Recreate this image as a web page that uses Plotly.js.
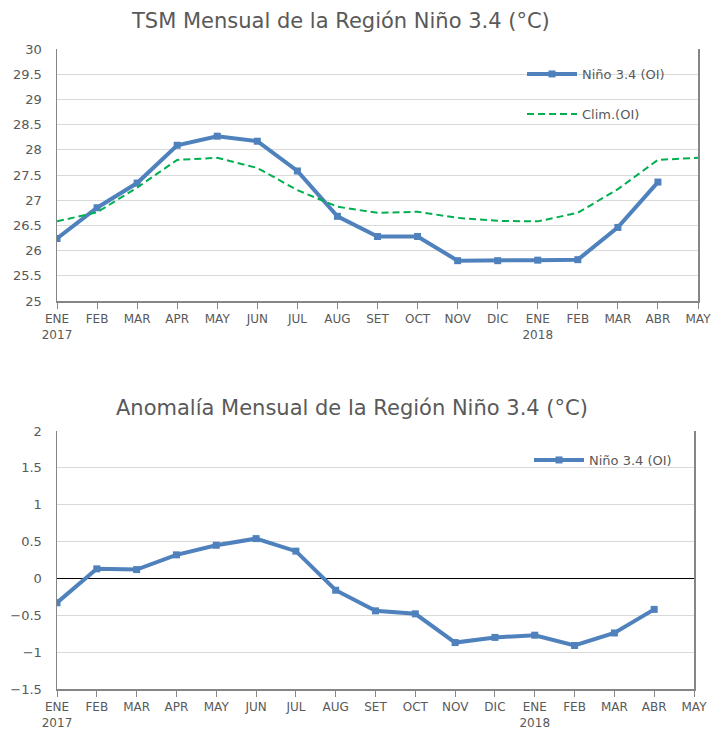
<!DOCTYPE html>
<html><head><meta charset="utf-8">
<script src="https://cdn.plot.ly/plotly-3.0.1.min.js"></script>
<style>html,body{margin:0;padding:0;background:#fff}#chart{width:713px;height:731px}</style>
</head><body><div id="chart"></div>
<script>
const months = ["ENE","FEB","MAR","APR","MAY","JUN","JUL","AUG","SET","OCT","NOV","DIC","ENE","FEB","MAR","ABR","MAY"];
const yearLabels = {0:"2017", 12:"2018"};
const nino34 = [26.24,26.85,27.34,28.09,28.27,28.17,27.58,26.68,26.28,26.28,25.80,25.80,25.81,25.82,26.46,27.36];
const clim = [26.58,26.76,27.25,27.80,27.84,27.64,27.20,26.87,26.75,26.77,26.65,26.59,26.58,26.75,27.22,27.80,27.84];
const anomaly = [-0.33,0.13,0.12,0.32,0.45,0.54,0.37,-0.16,-0.44,-0.48,-0.87,-0.80,-0.77,-0.91,-0.74,-0.42];

const idx = months.map((m,i)=>i);
const tickText = months.map((m,i)=> yearLabels[i] ? m + "<br>" + yearLabels[i] : m);
const FONT = "'DejaVu Sans', sans-serif";
const TXT = "#595959";
const BLUE = "#4f81bd";
const GREEN = "#00b050";

const traces = [
  {x: idx.slice(0,nino34.length), y: nino34, name: "Niño 3.4 (OI)", xaxis:"x", yaxis:"y", mode:"lines+markers",
   line:{color:BLUE,width:4}, marker:{symbol:"square",size:7,color:BLUE}, legend:"legend"},
  {x: idx.slice(0,clim.length), y: clim, name: "Clim.(OI)", xaxis:"x", yaxis:"y", mode:"lines",
   line:{color:GREEN,width:2,dash:"7px,4px"}, legend:"legend2"},
  {x: idx.slice(0,anomaly.length), y: anomaly, name: "Niño 3.4 (OI)", xaxis:"x2", yaxis:"y2", mode:"lines+markers",
   line:{color:BLUE,width:4}, marker:{symbol:"square",size:7,color:BLUE}, legend:"legend3"}
];

const xCommon = {
  range:[0,16], tickmode:"array", tickvals: idx, ticktext: tickText,
  showgrid:false, zeroline:false, showline:true, linecolor:"#868686", linewidth:1.5,
  ticks:"outside", ticklen:6, tickcolor:"#868686",
  tickfont:{family:FONT,size:12,color:TXT}, fixedrange:true
};
const yCommon = {
  showgrid:true, gridcolor:"#d9d9d9", gridwidth:1, showline:true, mirror:true,
  linecolor:"#868686", linewidth:1.5, ticks:"", dtick:0.5,
  tickfont:{family:FONT,size:13,color:TXT}, ticklabelstandoff:11
};
const legFont = {family:FONT,size:13,color:TXT};

const layout = {
  width:713, height:731, margin:{l:0,r:0,t:0,b:0},
  paper_bgcolor:"#fff", plot_bgcolor:"#fff", showlegend:true,
  xaxis: Object.assign({}, xCommon, {domain:[57/713,698/713], anchor:"y"}),
  yaxis: Object.assign({}, yCommon, {domain:[1-301/731,1-49/731], range:[25,30], zeroline:false, anchor:"x"}),
  xaxis2: Object.assign({}, xCommon, {domain:[57/713,694/713], anchor:"y2"}),
  yaxis2: Object.assign({}, yCommon, {domain:[1-689/731,1-431/731], range:[-1.5,2],
    zeroline:true, zerolinecolor:"#000", zerolinewidth:1.5, anchor:"x2"}),
  legend: {x:522/713, y:1-74/731, xanchor:"left", yanchor:"middle", font:legFont, bgcolor:"rgba(0,0,0,0)", itemwidth:50},
  legend2: {x:522/713, y:1-114/731, xanchor:"left", yanchor:"middle", font:legFont, bgcolor:"rgba(0,0,0,0)", itemwidth:50},
  legend3: {x:529/713, y:1-460/731, xanchor:"left", yanchor:"middle", font:legFont, bgcolor:"rgba(0,0,0,0)", itemwidth:50},
  annotations: [
    {text:"TSM Mensual de la Región Niño 3.4 (°C)", xref:"paper", yref:"paper", x:340/713, y:1-21/731,
     xanchor:"center", yanchor:"middle", showarrow:false, font:{family:FONT,size:21,color:TXT}},
    {text:"Anomalía Mensual de la Región Niño 3.4 (°C)", xref:"paper", yref:"paper", x:352/713, y:1-408/731,
     xanchor:"center", yanchor:"middle", showarrow:false, font:{family:FONT,size:21,color:TXT}}
  ]
};
Plotly.newPlot("chart", traces, layout, {displayModeBar:false, staticPlot:true});
</script></body></html>
